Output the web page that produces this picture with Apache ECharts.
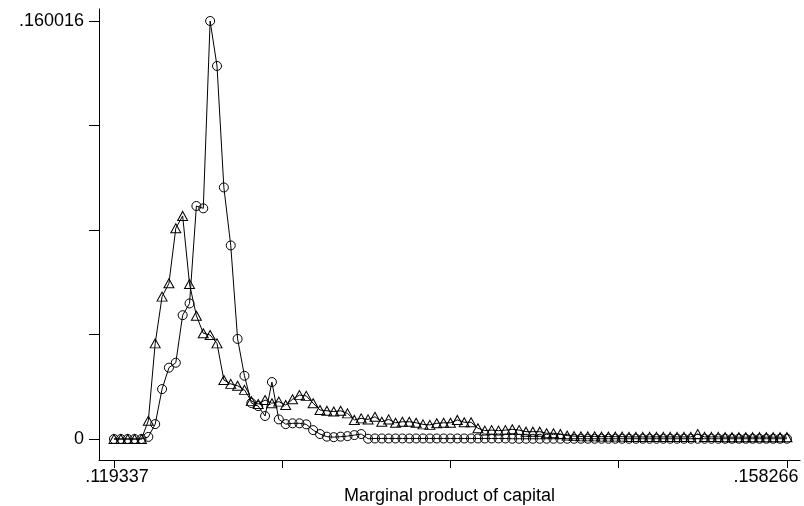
<!DOCTYPE html>
<html>
<head>
<meta charset="utf-8">
<script src="https://cdn.jsdelivr.net/npm/echarts@6/dist/echarts.min.js"></script>
<style>html,body{margin:0;padding:0;background:#fff}#c{width:804px;height:506px}</style>
</head>
<body>
<div id="c"></div>
<script>
// x positions are grid indices 0..98 (evenly spaced from .119337 to .158266)
const xTickPositions = [0, 24.5, 49, 73.5, 98];
const xTickLabels = ['.119337', '', '', '', '.158266'];
const yTickValues = [0, 0.040004, 0.080008, 0.120012, 0.160016];
const yTickLabels = ['0', '', '', '', '.160016'];
const xTitle = 'Marginal product of capital';

const circleSeries = [
  0, 0, 0, 0, 0, 0.0008, 0.0057, 0.0191, 0.0273, 0.0292,
  0.0474, 0.0519, 0.0892, 0.0883, 0.160016, 0.1428, 0.0963, 0.0741, 0.0383, 0.0242,
  0.0138, 0.0126, 0.0088, 0.0218, 0.0075, 0.0057, 0.0060, 0.0060, 0.0056, 0.0034,
  0.0019, 0.0009, 0.0007, 0.0009, 0.0011, 0.0015, 0.0019, 0.0001, 0.0002, 0.0002,
  0.0002, 0.0002, 0.0002, 0.0002, 0.0002, 0.0002, 0.0002, 0.0002, 0.0002, 0.0002,
  0.0002, 0.0002, 0.0002, 0.0002, 0.0002, 0.0002, 0.0002, 0.0002, 0.0001, 0.0001,
  0.0001, 0.0001, 0.0001, 0.0001, 0.0001, 0.0001, 0.0001, 0.0001, 0.0001, 0.0001,
  0.0001, 0.0001, 0.0001, 0.0001, 0.0001, 0.0001, 0.0001, 0.0001, 0.0001, 0.0001,
  0.0001, 0.0001, 0.0001, 0.0001, 0.0001, 0.0001, 0.0001, 0.0001, 0.0001, 0.0001,
  0.0001, 0.0001, 0.0001, 0.0001, 0.0001, 0.0001, 0.0001, 0.0001, 0.0001
];

const triangleSeries = [
  0, 0, 0, 0, 0, 0.0070, 0.0366, 0.0545, 0.0596, 0.0807,
  0.0854, 0.0593, 0.0472, 0.0405, 0.0398, 0.0366, 0.0226, 0.0211, 0.0204, 0.0188,
  0.0145, 0.0134, 0.0149, 0.0137, 0.0143, 0.0130, 0.0152, 0.0168, 0.0165, 0.0137,
  0.0111, 0.0108, 0.0105, 0.0108, 0.0098, 0.0073, 0.0079, 0.0075, 0.0085, 0.0066,
  0.0075, 0.0062, 0.0066, 0.0066, 0.0062, 0.0056, 0.0054, 0.0060, 0.0062, 0.0062,
  0.0073, 0.0064, 0.0064, 0.0041, 0.0032, 0.0034, 0.0032, 0.0034, 0.0037, 0.0034,
  0.0028, 0.0028, 0.0028, 0.0022, 0.0022, 0.0019, 0.0013, 0.0011, 0.0010, 0.0010,
  0.0010, 0.0009, 0.0009, 0.0009, 0.0009, 0.0008, 0.0008, 0.0008, 0.0008, 0.0008,
  0.0008, 0.0008, 0.0008, 0.0008, 0.0008, 0.0019, 0.0008, 0.0008, 0.0008, 0.0007,
  0.0007, 0.0007, 0.0007, 0.0007, 0.0007, 0.0007, 0.0007, 0.0007, 0.0007
];

const chart = echarts.init(document.getElementById('c'), null, {renderer: 'canvas'});
const font = 'Liberation Sans, Arial, sans-serif';
const markerStyle = {color: 'rgba(255,255,255,0)', borderColor: '#000', borderWidth: 1};

chart.setOption({
  animation: false,
  backgroundColor: '#fff',
  grid: {left: 99, right: 4, top: 9, bottom: 46, containLabel: false, outerBoundsMode: 'none'},
  xAxis: {
    type: 'value', min: -2.184, max: 99.9,
    name: xTitle, nameLocation: 'middle', nameGap: 27, nameMoveOverlap: false,
    nameTextStyle: {color: '#000', fontFamily: font, fontSize: 18},
    axisLine: {show: true, onZero: false, lineStyle: {color: '#000', width: 1}},
    axisTick: {show: true, length: 8, customValues: xTickPositions, lineStyle: {color: '#000'}},
    axisLabel: {
      customValues: [xTickPositions[0], xTickPositions[4]],
      color: '#000', fontFamily: font, fontSize: 18, margin: 8,
      formatter: v => {
        const i = xTickPositions.indexOf(v);
        if (i === 0) return '{a|' + xTickLabels[i] + '}';
        if (i === 4) return '{b|' + xTickLabels[i] + '}';
        return '';
      },
      rich: {
        a: {fontFamily: font, fontSize: 18, color: '#000', padding: [0, 0, 0, 6]},
        b: {fontFamily: font, fontSize: 18, color: '#000', padding: [0, 42, 0, 0]}
      }
    },
    splitLine: {show: false}
  },
  yAxis: {
    type: 'value', min: -0.00804, max: 0.16461,
    axisLine: {show: true, onZero: false, lineStyle: {color: '#000', width: 1}},
    axisTick: {show: true, length: 10, customValues: yTickValues, lineStyle: {color: '#000'}},
    axisLabel: {
      customValues: [yTickValues[0], yTickValues[4]],
      color: '#000', fontFamily: font, fontSize: 18, margin: 15,
      formatter: v => yTickLabels[yTickValues.indexOf(v)] || ''
    },
    splitLine: {show: false}
  },
  series: [
    {
      type: 'line', data: circleSeries.map((v, i) => [i, v]),
      symbol: 'circle', symbolSize: 9, showAllSymbol: true,
      lineStyle: {color: '#000', width: 1}, itemStyle: markerStyle, z: 3
    },
    {
      type: 'line', data: triangleSeries.map((v, i) => [i, v]),
      symbol: 'triangle', symbolSize: [10, 9], showAllSymbol: true,
      lineStyle: {color: '#000', width: 1}, itemStyle: markerStyle, z: 2
    }
  ]
});
</script>
</body>
</html>
